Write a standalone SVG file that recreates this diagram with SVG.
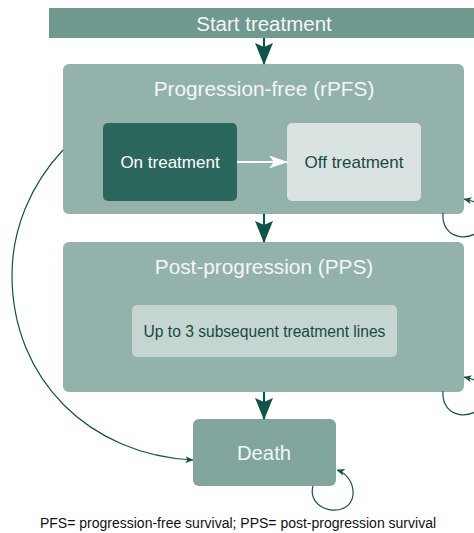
<svg xmlns="http://www.w3.org/2000/svg" width="474" height="533" viewBox="0 0 474 533">
<style>
text{font-family:"Liberation Sans",Arial,sans-serif;text-anchor:middle}
.title{fill:#f3f7f5;font-size:20.8px}
.big{stroke:#0f5547;stroke-width:2.2;fill:none}
.thin{stroke:#0f5547;stroke-width:1.2;fill:none}
</style>
<defs>
<marker id="bigArrow" viewBox="0 0 22 18" refX="21" refY="9" markerWidth="22" markerHeight="18" markerUnits="userSpaceOnUse" orient="auto">
<path d="M0,0 L22,9 L0,18 L4,9 Z" fill="#0f5547"/>
</marker>
<marker id="whiteArrow" viewBox="0 0 19 13" refX="18" refY="6.5" markerWidth="19" markerHeight="13" markerUnits="userSpaceOnUse" orient="auto">
<path d="M0,0 L19,6.5 L0,13 L5,6.5 Z" fill="#ffffff"/>
</marker>
<marker id="smallArrow" viewBox="0 0 8 7" refX="7.5" refY="3.5" markerWidth="8" markerHeight="7" markerUnits="userSpaceOnUse" orient="auto">
<path d="M0,0 L8,3.5 L0,7 L2,3.5 Z" fill="#0f5547"/>
</marker>
</defs>

<g id="start">
<rect x="49" y="8" width="430" height="30" fill="#6f998f"/>
<text x="264" y="31" class="title" style="font-size:20.5px">Start treatment</text>
</g>

<g id="progression-free">
<rect x="63" y="64" width="401" height="150" rx="6" fill="#93b2ab"/>
<text x="264" y="96" class="title">Progression-free (rPFS)</text>
</g>

<g id="on-treatment">
<rect x="103" y="123" width="134" height="78" rx="5" fill="#2b675c"/>
<text x="170" y="168" fill="#ffffff" style="font-size:17px">On treatment</text>
</g>

<g id="off-treatment">
<rect x="287" y="123" width="134" height="78" rx="5" fill="#d9e3e1"/>
<text x="354" y="168" fill="#174a40" style="font-size:17px">Off treatment</text>
</g>

<g id="post-progression">
<rect x="63" y="242" width="401" height="150" rx="6" fill="#93b2ab"/>
<text x="264" y="274" class="title">Post-progression (PPS)</text>
</g>

<g id="subsequent-lines">
<rect x="132" y="305" width="265" height="52" rx="5" fill="#c5d6d2"/>
<text x="264.5" y="337" fill="#174a40" style="font-size:15.6px">Up to 3 subsequent treatment lines</text>
</g>

<g id="death">
<rect x="193" y="419" width="143" height="67" rx="6" fill="#7fa59c"/>
<text x="264" y="460" fill="#f3f7f5" style="font-size:20.3px">Death</text>
</g>

<g id="connectors">
<line x1="264" y1="38" x2="264" y2="64" class="big" marker-end="url(#bigArrow)"/>
<line x1="264" y1="214" x2="264" y2="242" class="big" marker-end="url(#bigArrow)"/>
<line x1="264" y1="392" x2="264" y2="419" class="big" marker-end="url(#bigArrow)"/>
<line x1="237" y1="162" x2="287" y2="162" stroke="#ffffff" stroke-width="2" marker-end="url(#whiteArrow)"/>
<path d="M63,150 C30,185 12,230 12,275 C12,380 90,455 193,460" class="thin" marker-end="url(#smallArrow)"/>
<path d="M443,213 C441,242 475,244 488,222 C494,210 482,203 464,199" class="thin" marker-end="url(#smallArrow)"/>
<path d="M443,391 C441,420 475,422 488,400 C494,388 482,381 464,377" class="thin" marker-end="url(#smallArrow)"/>
<path d="M313,486 C306,512 350,520 353,495 C354,482 346,473 337,470" class="thin" marker-end="url(#smallArrow)"/>
</g>

<text x="238" y="528" fill="#111111" style="font-size:14px">PFS= progression-free survival; PPS= post-progression survival</text>
</svg>
